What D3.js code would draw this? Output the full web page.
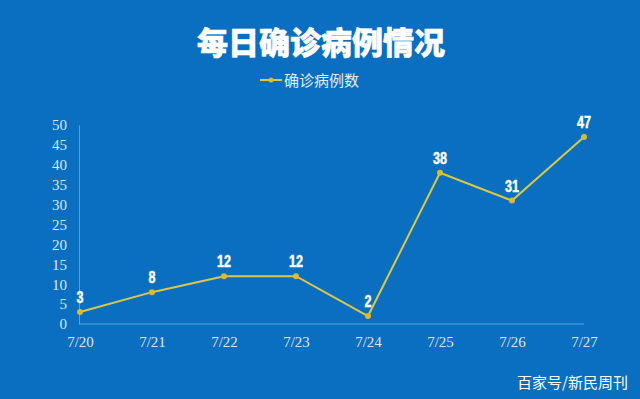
<!DOCTYPE html>
<html>
<head>
<meta charset="utf-8">
<script src="https://cdn.jsdelivr.net/npm/d3@7"></script>
<style>
  html, body { margin: 0; padding: 0; background: #0a6fc1; }
  #my_dataviz { width: 640px; height: 399px; }
</style>
</head>
<body>
<div id="my_dataviz"></div>
<script>
// Chart data
const dates = ["7/20", "7/21", "7/22", "7/23", "7/24", "7/25", "7/26", "7/27"];
const cases = [3, 8, 12, 12, 2, 38, 31, 47];
const yTicks = [0, 5, 10, 15, 20, 25, 30, 35, 40, 45, 50];
const titleText = "每日确诊病例情况";
const seriesName = "确诊病例数";
const sourceText = "百家号/新民周刊";

const W = 640, H = 399;
const margin = { top: 125, right: 56, bottom: 75, left: 80 };

const svg = d3.select("#my_dataviz")
  .append("svg")
    .attr("width", W)
    .attr("height", H);

// background
svg.append("rect")
  .attr("width", W).attr("height", H)
  .attr("fill", "#0a6fc1");

// Scales
const x = d3.scalePoint()
  .domain(dates)
  .range([margin.left, W - margin.right]);

const y = d3.scaleLinear()
  .domain([0, 50])
  .range([H - margin.bottom, margin.top]);

// Title
svg.append("text")
  .attr("x", W / 2 + 1)
  .attr("y", 54)
  .attr("text-anchor", "middle")
  .attr("fill", "#ffffff")
  .attr("stroke", "#ffffff")
  .attr("stroke-width", 0.6)
  .style("font-family", "'Noto Sans CJK SC', sans-serif")
  .style("font-weight", "900")
  .style("font-size", "31px")
  .text(titleText);

// Legend
const legend = svg.append("g").attr("transform", "translate(260,80)");
legend.append("line")
  .attr("x1", 0).attr("x2", 22)
  .attr("stroke", "#dcc843").attr("stroke-width", 2);
legend.append("circle")
  .attr("cx", 11).attr("r", 2.5).attr("fill", "#e0b830");
legend.append("text")
  .attr("x", 24).attr("y", 5.5)
  .attr("fill", "#e6eef8")
  .style("font-family", "'Noto Sans CJK SC', sans-serif")
  .style("font-size", "15px")
  .text(seriesName);

// Y axis
const yAxis = svg.append("g")
  .attr("transform", `translate(${margin.left - 1},0)`)
  .call(d3.axisLeft(y).tickValues(yTicks).tickSize(0).tickPadding(12));
yAxis.select(".domain").attr("stroke", "#5e9fd8").attr("stroke-width", 1);

// X axis
const xAxis = svg.append("g")
  .attr("transform", `translate(0,${H - margin.bottom})`)
  .call(d3.axisBottom(x).tickSize(0).tickPadding(12).tickSizeOuter(0));
xAxis.select(".domain")
  .attr("d", `M${margin.left - 1},0H${W - margin.right}`)
  .attr("stroke", "#5e9fd8").attr("stroke-width", 1);

svg.selectAll(".tick text")
  .attr("fill", "#dce8f6")
  .style("font-family", "'Liberation Serif', serif")
  .style("font-size", "15px");

// Line
const data = dates.map((d, i) => ({ date: d, value: cases[i] }));

svg.append("path")
  .datum(data)
  .attr("fill", "none")
  .attr("stroke", "#dcc843")
  .attr("stroke-width", 2)
  .attr("d", d3.line().x(d => x(d.date)).y(d => y(d.value)));

svg.append("g")
  .selectAll("circle")
  .data(data)
  .join("circle")
    .attr("cx", d => x(d.date))
    .attr("cy", d => y(d.value))
    .attr("r", 3)
    .attr("fill", "#e0b830");

// Value labels (condensed bold, like the original)
svg.append("g")
  .selectAll("text")
  .data(data)
  .join("text")
    .attr("transform", d => `translate(${x(d.date)},${y(d.value) - 9}) scale(0.74,1)`)
    .attr("text-anchor", "middle")
    .attr("fill", "#ffffff")
    .attr("stroke", "#ffffff")
    .attr("stroke-width", 0.5)
    .style("font-family", "'Liberation Sans', sans-serif")
    .style("font-weight", "bold")
    .style("font-size", "17px")
    .text(d => d.value);

// Source
svg.append("text")
  .attr("x", 628)
  .attr("y", 388)
  .attr("text-anchor", "end")
  .attr("fill", "#ffffff")
  .style("font-family", "'Noto Sans CJK SC', sans-serif")
  .style("font-size", "15px")
  .text(sourceText);
</script>
</body>
</html>
